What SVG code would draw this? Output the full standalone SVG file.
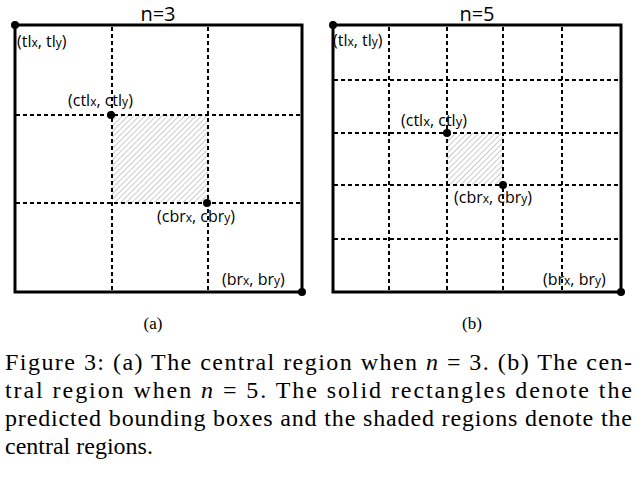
<svg xmlns="http://www.w3.org/2000/svg" width="637" height="480" viewBox="0 0 637 480">
<style>
.box{fill:none;stroke:#000;stroke-width:3}
.grid{stroke:#000;stroke-width:2;stroke-dasharray:4 3}
.lbl{font-family:"Open Sans","Liberation Sans",sans-serif;font-size:16px;fill:#000}
.ttl{font-family:"Open Sans","Liberation Sans",sans-serif;font-size:20px;fill:#000}
.cap{font-family:"Liberation Serif",serif;font-size:24px;fill:#000}
.sub{font-family:"Liberation Serif",serif;font-size:17px;fill:#000}
</style>
<defs>
<pattern id="hatch" width="4" height="4" patternUnits="userSpaceOnUse" patternTransform="rotate(45)">
<rect width="4" height="4" fill="#fff"/>
<line x1="0" y1="0" x2="0" y2="4" stroke="#aaa" stroke-width="1.2"/>
</pattern>
</defs>
<g id="panel-a">
<text class="ttl" x="158" y="21" text-anchor="middle">n=3</text>
<rect x="112" y="115" width="96" height="88" fill="url(#hatch)"/>
<g class="grid">
<line x1="112" y1="27" x2="112" y2="291"/><line x1="208" y1="27" x2="208" y2="291"/>
<line x1="16" y1="115" x2="301" y2="115"/><line x1="16" y1="203" x2="301" y2="203"/>
</g>
<rect class="box" x="15" y="25" width="287" height="267"/>
<circle cx="15" cy="25" r="4"/><circle cx="111" cy="115" r="4"/><circle cx="207" cy="203" r="4"/><circle cx="302" cy="292" r="4"/>
<text class="lbl" x="17" y="47">(tl<tspan font-size="12">x</tspan>, tl<tspan font-size="12">y</tspan>)</text>
<text class="lbl" x="68" y="106">(ctl<tspan font-size="12">x</tspan>, ctl<tspan font-size="12">y</tspan>)</text>
<text class="lbl" x="157" y="222">(cbr<tspan font-size="12">x</tspan>, cbr<tspan font-size="12">y</tspan>)</text>
<text class="lbl" x="222" y="285">(br<tspan font-size="12">x</tspan>, br<tspan font-size="12">y</tspan>)</text>
<text class="sub" x="153" y="329" text-anchor="middle">(a)</text>
</g>
<g id="panel-b">
<text class="ttl" x="477" y="21" text-anchor="middle">n=5</text>
<rect x="447" y="133" width="56" height="52" fill="url(#hatch)"/>
<g class="grid">
<line x1="389" y1="27" x2="389" y2="291"/><line x1="447" y1="27" x2="447" y2="291"/>
<line x1="503" y1="27" x2="503" y2="291"/><line x1="562" y1="27" x2="562" y2="291"/>
<line x1="334" y1="80" x2="620" y2="80"/><line x1="334" y1="133" x2="620" y2="133"/>
<line x1="334" y1="185" x2="620" y2="185"/><line x1="334" y1="239" x2="620" y2="239"/>
</g>
<rect class="box" x="333" y="25" width="288" height="267"/>
<circle cx="333" cy="25" r="4"/><circle cx="447" cy="133" r="4"/><circle cx="503" cy="185" r="4"/><circle cx="621" cy="292" r="4"/>
<text class="lbl" x="333" y="46">(tl<tspan font-size="12">x</tspan>, tl<tspan font-size="12">y</tspan>)</text>
<text class="lbl" x="401" y="126" font-size="19">(ctl<tspan font-size="13">x</tspan>, ctl<tspan font-size="13">y</tspan>)</text>
<text class="lbl" x="454" y="203">(cbr<tspan font-size="12">x</tspan>, cbr<tspan font-size="12">y</tspan>)</text>
<text class="lbl" x="543" y="285">(br<tspan font-size="12">x</tspan>, br<tspan font-size="12">y</tspan>)</text>
<text class="sub" x="472" y="329" text-anchor="middle">(b)</text>
</g>
<g id="caption">
<text class="cap" x="5" y="370" textLength="627" lengthAdjust="spacing">Figure 3: (a) The central region when <tspan font-style="italic">n</tspan> = 3. (b) The cen-</text>
<text class="cap" x="5" y="398" textLength="627" lengthAdjust="spacing">tral region when <tspan font-style="italic">n</tspan> = 5. The solid rectangles denote the</text>
<text class="cap" x="5" y="426" textLength="627" lengthAdjust="spacing">predicted bounding boxes and the shaded regions denote the</text>
<text class="cap" x="5" y="454">central regions.</text>
</g>
</svg>
